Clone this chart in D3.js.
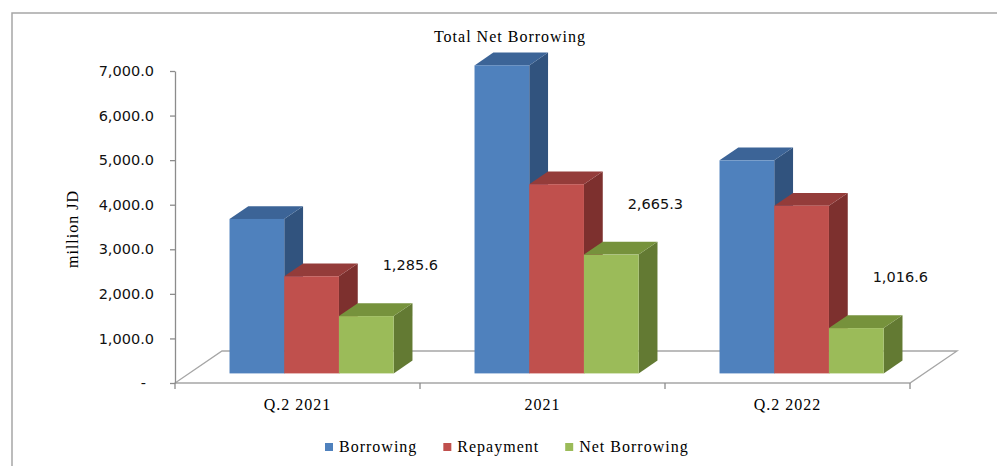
<!DOCTYPE html>
<html><head><meta charset="utf-8">
<script src="https://cdn.jsdelivr.net/npm/d3@7"></script>
<style>
html,body{margin:0;padding:0;background:#fff;}
svg{display:block;}
.serif{font-family:"Liberation Serif","Times New Roman",serif;font-size:16px;letter-spacing:1px;fill:#000;}
.num{font-family:"DejaVu Sans",Verdana,sans-serif;font-size:14.5px;fill:#111;}
</style>
</head><body>
<svg id="c" width="997" height="466"></svg>
<script>
// ---- data ----
const categories = ["Q.2 2021", "2021", "Q.2 2022"];
const seriesNames = ["Borrowing", "Repayment", "Net Borrowing"];
const borrowing = [3465, 6910, 4780];
const repayment = [2180, 4245, 3763];
const netBorrowing = [1285.6, 2665.3, 1016.6];
const netLabels = ["1,285.6", "2,665.3", "1,016.6"];
const yTickValues = [0, 1000, 2000, 3000, 4000, 5000, 6000, 7000];
const yTickLabels = ["-", "1,000.0", "2,000.0", "3,000.0", "4,000.0", "5,000.0", "6,000.0", "7,000.0"];
const titleText = "Total Net Borrowing";
const yTitle = "million JD";

// ---- styles ----
const faceColors = [
  {front:"#4F81BD", top:"#3C6497", side:"#31537E"},
  {front:"#C0504D", top:"#943C3A", side:"#7D302E"},
  {front:"#9BBB59", top:"#76923C", side:"#637A33"}
];

const svg = d3.select("#c");
const values = [borrowing, repayment, netBorrowing];

// layout
const plotLeft = 175, plotRight = 910, y0 = 383, yTop = 71;
const depthDX = 47, depthDY = -32;
const zFront = 0.3, zBack = 0.7;
const off = z => [depthDX * z, depthDY * z];

// frame
svg.append("path").attr("d", "M12,466 L12,13 L997,13").attr("fill","none")
  .attr("stroke","#A6A6A6").attr("stroke-width",1.5);

const y = d3.scaleLinear().domain([0, 7000]).range([y0, yTop]);
const xCat = d3.scaleBand().domain(categories).range([plotLeft, plotRight]);
const bw = xCat.bandwidth();
const gap = bw * 0.165;
const xSer = d3.scaleBand().domain(seriesNames).range([gap, bw - gap]);
const w = xSer.bandwidth();

// floor
const [fdx, fdy] = off(1);
svg.append("path")
  .attr("d", `M${plotLeft},${y0} L${plotRight},${y0} L${plotRight+fdx},${y0+fdy} L${plotLeft+fdx},${y0+fdy} Z`)
  .attr("fill","none").attr("stroke","#A6A6A6").attr("stroke-width",1.3);

// y axis
const yAxis = d3.axisLeft(y).tickValues(yTickValues)
  .tickFormat((d,i) => yTickLabels[i]).tickSize(5).tickSizeOuter(0).tickPadding(16);
const gy = svg.append("g").attr("transform", `translate(${plotLeft},0)`).call(yAxis);
gy.select(".domain").attr("stroke","#8C8C8C").attr("stroke-width",1.3);
gy.selectAll(".tick line").attr("stroke","#8C8C8C").attr("stroke-width",1.3);
gy.selectAll(".tick text").attr("class","num")
  .attr("dx", (d,i) => yTickLabels[i] === "-" ? -8 : 0);
gy.attr("font-family",null).attr("font-size",null);

// category axis: boundary ticks
const bounds = categories.map(c => xCat(c)).concat([plotRight]);
svg.append("g").selectAll("line").data(bounds).join("line")
  .attr("x1", d => d).attr("x2", d => d).attr("y1", y0).attr("y2", y0 + 6)
  .attr("stroke","#8C8C8C").attr("stroke-width",1.3);
svg.append("g").selectAll("text").data(categories).join("text")
  .attr("class","serif").attr("text-anchor","middle")
  .attr("x", d => xCat(d) + bw/2).attr("y", y0 + 27).text(d => d);

// bars
const [bdx0, bdy0] = off(zFront);
const [bdx1, bdy1] = off(zBack);
const ddx = bdx1 - bdx0, ddy = bdy1 - bdy0;
const gBars = svg.append("g");
categories.forEach((c, i) => {
  seriesNames.forEach((s, j) => {
    const v = values[j][i];
    const x0 = xCat(c) + xSer(s) + bdx0;
    const yb = y(0) + bdy0, yt = y(v) + bdy0;
    const col = faceColors[j];
    const g = gBars.append("g");
    g.append("path").attr("fill", col.side)
      .attr("d", `M${x0+w},${yt} L${x0+w+ddx},${yt+ddy} L${x0+w+ddx},${yb+ddy} L${x0+w},${yb} Z`);
    g.append("path").attr("fill", col.top)
      .attr("d", `M${x0},${yt} L${x0+w},${yt} L${x0+w+ddx},${yt+ddy} L${x0+ddx},${yt+ddy} Z`);
    g.append("rect").attr("fill", col.front)
      .attr("x", x0).attr("y", yt).attr("width", w).attr("height", yb - yt);
  });
});

// data labels (net borrowing)
svg.append("g").selectAll("text").data(netBorrowing).join("text")
  .attr("class","num").attr("text-anchor","middle")
  .attr("x", (d,i) => xCat(categories[i]) + xSer("Net Borrowing") + w/2 + bdx0 + 44)
  .attr("y", d => y(d) + bdy0 - 46)
  .text((d,i) => netLabels[i]);

// title
svg.append("text").attr("class","serif").attr("text-anchor","middle")
  .attr("x", 510).attr("y", 42).text(titleText);

// y title
svg.append("text").attr("class","serif").attr("text-anchor","middle")
  .attr("transform","translate(78,229) rotate(-90)").text(yTitle);

// legend
const lg = svg.append("g");
let lx = 325;
seriesNames.forEach((s, j) => {
  lg.append("rect").attr("x", lx).attr("y", 443).attr("width", 8).attr("height", 8).attr("fill", faceColors[j].front);
  const t = lg.append("text").attr("class","serif").attr("x", lx + 14).attr("y", 452).text(s);
  lx = lx + 14 + t.node().getComputedTextLength() + 26;
});
</script>
</body></html>
